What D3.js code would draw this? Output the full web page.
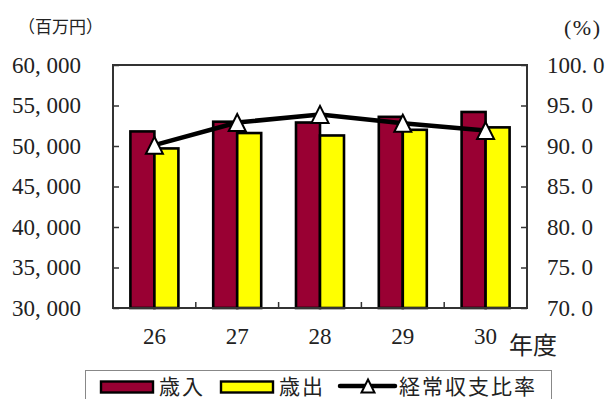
<!DOCTYPE html>
<html>
<head>
<meta charset="utf-8">
<script src="https://cdn.jsdelivr.net/npm/d3@7"></script>
<style>
  html, body { margin: 0; padding: 0; background: #fff; }
  svg { display: block; }
  .num { font-family: "Liberation Serif", "DejaVu Serif", "Times New Roman", serif; }
  .jp { font-family: "Noto Sans CJK JP", "Noto Sans", sans-serif; }
</style>
</head>
<body>
<svg id="chart" width="606" height="399"></svg>
<script>
// 年度別の歳入・歳出（百万円）と経常収支比率（%）
const years = ["26", "27", "28", "29", "30"];
const revenue = [51800, 53000, 52900, 53600, 54200];     // 歳入
const expenditure = [49700, 51600, 51300, 52000, 52300]; // 歳出
const ratio = [90.1, 92.9, 93.9, 92.8, 91.9];            // 経常収支比率
const leftTicks = [30000, 35000, 40000, 45000, 50000, 55000, 60000];
const rightTicks = [70, 75, 80, 85, 90, 95, 100];

const axisColor = "#333";
const inkColor = "#222";
const revColor = "#990033";
const expColor = "#ffff00";

const svg = d3.select("#chart");
const plot = { left: 113, right: 527, top: 65, bottom: 308 };

const x = d3.scaleBand().domain(years).range([plot.left, plot.right]);
const yL = d3.scaleLinear().domain([30000, 60000]).range([plot.bottom, plot.top]);
const yR = d3.scaleLinear().domain([70, 100]).range([plot.bottom, plot.top]);
const barW = 24;

// bars
const g = svg.append("g");
g.selectAll("rect.rev").data(years).join("rect")
  .attr("class", "rev")
  .attr("x", d => x(d) + x.bandwidth() / 2 - barW)
  .attr("y", (d, i) => yL(revenue[i]))
  .attr("width", barW)
  .attr("height", (d, i) => yL(30000) - yL(revenue[i]))
  .attr("fill", revColor).attr("stroke", "#000").attr("stroke-width", 2.6);

g.selectAll("rect.exp").data(years).join("rect")
  .attr("class", "exp")
  .attr("x", d => x(d) + x.bandwidth() / 2)
  .attr("y", (d, i) => yL(expenditure[i]))
  .attr("width", barW)
  .attr("height", (d, i) => yL(30000) - yL(expenditure[i]))
  .attr("fill", expColor).attr("stroke", "#000").attr("stroke-width", 2.6);

// frame and axes
const axL = d3.axisLeft(yL).tickValues(leftTicks).tickSize(-6).tickFormat(() => "");
const axR = d3.axisRight(yR).tickValues(rightTicks).tickSize(-6).tickFormat(() => "");
const gL = svg.append("g").attr("transform", `translate(${plot.left},0)`).call(axL);
const gR = svg.append("g").attr("transform", `translate(${plot.right},0)`).call(axR);
[gL, gR].forEach(a => {
  a.select(".domain").remove();
  a.selectAll("line").attr("stroke", axisColor).attr("stroke-width", 1.5);
});
// category separators along the bottom
const sepTicks = years.slice(1).map(d => x(d));
svg.append("g").selectAll("line").data(sepTicks).join("line")
  .attr("x1", d => d).attr("x2", d => d)
  .attr("y1", plot.bottom).attr("y2", plot.bottom - 6)
  .attr("stroke", axisColor).attr("stroke-width", 1.5);

svg.append("rect")
  .attr("x", plot.left).attr("y", plot.top)
  .attr("width", plot.right - plot.left).attr("height", plot.bottom - plot.top)
  .attr("fill", "none").attr("stroke", axisColor).attr("stroke-width", 2);

// ratio line
const line = d3.line()
  .x((d, i) => x(years[i]) + x.bandwidth() / 2)
  .y(d => yR(d));
svg.append("path").datum(ratio)
  .attr("d", line)
  .attr("fill", "none").attr("stroke", "#000").attr("stroke-width", 4.5)
  .attr("stroke-linejoin", "round");

const tri = (s) => `M0,${-s / 2}L${s / 2},${s / 2}L${-s / 2},${s / 2}Z`;
svg.append("g").selectAll("path").data(ratio).join("path")
  .attr("transform", (d, i) => `translate(${x(years[i]) + x.bandwidth() / 2},${yR(d)})`)
  .attr("d", tri(17))
  .attr("fill", "#fff").attr("stroke", "#000").attr("stroke-width", 2);

// tick labels
svg.append("g").selectAll("text").data(leftTicks).join("text")
  .attr("class", "num")
  .attr("x", 81).attr("y", d => yL(d))
  .attr("text-anchor", "end").attr("dominant-baseline", "central")
  .attr("font-size", 23).attr("fill", inkColor)
  .text(d => d3.format(",")(d).replace(",", ", "));

svg.append("g").selectAll("text").data(rightTicks).join("text")
  .attr("class", "num")
  .attr("x", 547).attr("y", d => yR(d))
  .attr("text-anchor", "start").attr("dominant-baseline", "central")
  .attr("font-size", 23).attr("fill", inkColor)
  .text(d => d3.format(".1f")(d).replace(".", ". "));

svg.append("g").selectAll("text").data(years).join("text")
  .attr("class", "num")
  .attr("x", d => x(d) + x.bandwidth() / 2).attr("y", 336)
  .attr("text-anchor", "middle").attr("dominant-baseline", "central")
  .attr("font-size", 23).attr("fill", inkColor)
  .text(d => d);

// units
svg.append("text").attr("class", "jp").attr("x", 18).attr("y", 25)
  .attr("dominant-baseline", "central")
  .attr("font-size", 17).attr("fill", inkColor)
  .text("（百万円）");
svg.append("text").attr("class", "num").attr("x", 564).attr("y", 27)
  .attr("dominant-baseline", "central")
  .attr("font-size", 22).attr("letter-spacing", 1.5).attr("fill", inkColor)
  .text("(%)");
svg.append("text").attr("class", "jp").attr("x", 509).attr("y", 343)
  .attr("dominant-baseline", "central")
  .attr("font-size", 24).attr("fill", inkColor)
  .text("年度");

// legend
const lg = svg.append("g");
lg.append("rect").attr("x", 85.5).attr("y", 370.5).attr("width", 466).attr("height", 40)
  .attr("fill", "#fff").attr("stroke", "#888").attr("stroke-width", 1);
const legendY = 385;
const legendFont = 21;
lg.append("rect").attr("x", 101).attr("y", 381.5).attr("width", 52).attr("height", 11)
  .attr("fill", revColor).attr("stroke", "#000").attr("stroke-width", 2.4);
lg.append("text").attr("class", "jp").attr("x", 159).attr("y", legendY).attr("dominant-baseline", "central")
  .attr("font-size", legendFont).attr("letter-spacing", 2).attr("fill", inkColor).text("歳入");
lg.append("rect").attr("x", 221).attr("y", 381.5).attr("width", 52).attr("height", 11)
  .attr("fill", expColor).attr("stroke", "#000").attr("stroke-width", 2.4);
lg.append("text").attr("class", "jp").attr("x", 279).attr("y", legendY).attr("dominant-baseline", "central")
  .attr("font-size", legendFont).attr("letter-spacing", 2).attr("fill", inkColor).text("歳出");
lg.append("line").attr("x1", 340).attr("x2", 395).attr("y1", 386).attr("y2", 386)
  .attr("stroke", "#000").attr("stroke-width", 4.5).attr("stroke-linecap", "round");
lg.append("path").attr("transform", "translate(368,386)").attr("d", tri(13))
  .attr("fill", "#fff").attr("stroke", "#000").attr("stroke-width", 2);
lg.append("text").attr("class", "jp").attr("x", 399).attr("y", legendY).attr("dominant-baseline", "central")
  .attr("font-size", legendFont).attr("letter-spacing", 2).attr("fill", inkColor).text("経常収支比率");
</script>
</body>
</html>
